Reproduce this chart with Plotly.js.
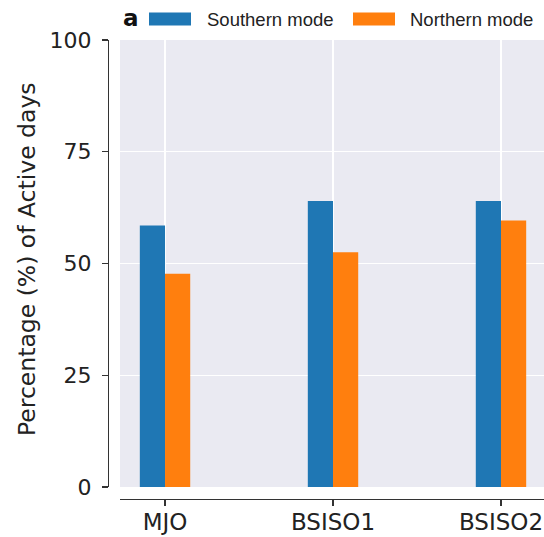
<!DOCTYPE html>
<html>
<head>
<meta charset="utf-8">
<script src="https://cdn.plot.ly/plotly-3.0.1.min.js"></script>
<style>html,body{margin:0;padding:0;background:#fff;}#chart{width:544px;height:537px;}</style>
</head>
<body>
<div id="chart"></div>
<script>
const categories = ['MJO', 'BSISO1', 'BSISO2'];
const southern = [58.5, 64.0, 64.0];
const northern = [47.7, 52.5, 59.6];
const seriesNames = ['Southern mode', 'Northern mode'];
const seriesColors = ['#1f77b4', '#ff7f0e'];
const yTicks = [0, 25, 50, 75, 100];
const panelLabel = 'a';
const yTitle = 'Percentage (%) of Active days';

const W = 544, H = 537, ML = 108, MR = 0, MT = 40, MB = 38;
const PW = W - ML - MR, PH = H - MT - MB;
const px = v => (v - ML) / PW;
const py = v => (H - MB - v) / PH;

const traces = [
  {type: 'bar', name: seriesNames[0], x: categories, y: southern, width: 0.15, offset: -0.15,
   marker: {color: seriesColors[0]}, showlegend: false, hoverinfo: 'skip'},
  {type: 'bar', name: seriesNames[1], x: categories, y: northern, width: 0.15, offset: 0,
   marker: {color: seriesColors[1]}, showlegend: false, hoverinfo: 'skip'}
];

const layout = {
  width: W, height: H,
  margin: {l: ML, r: MR, t: MT, b: MB, pad: 0},
  paper_bgcolor: '#ffffff', plot_bgcolor: '#EAEAF2',
  barmode: 'overlay',
  showlegend: false,
  xaxis: {
    domain: [12 / PW, 1], anchor: 'free', position: 0,
    type: 'category', range: [-0.268, 2.256],
    showline: true, linecolor: '#333', linewidth: 1.25,
    ticks: 'outside', ticklen: 6, tickwidth: 1.25, tickcolor: '#333',
    showgrid: true, gridcolor: '#ffffff', gridwidth: 1.3, zeroline: false,
    tickfont: {family: 'DejaVu Sans', size: 23, color: '#222'},
    ticklabelstandoff: -4, fixedrange: true, automargin: false
  },
  yaxis: {
    domain: [12 / PH, 1], anchor: 'free', position: 0,
    range: [0, 100], tickvals: yTicks, ticktext: yTicks.map(String),
    showline: true, linecolor: '#333', linewidth: 1.25,
    ticks: 'outside', ticklen: 6, tickwidth: 1.25, tickcolor: '#333',
    showgrid: true, gridcolor: '#ffffff', gridwidth: 1.3, zeroline: false,
    tickfont: {family: 'DejaVu Sans', size: 22, color: '#222'}, ticklabelstandoff: 6,
    automargin: false, fixedrange: true
  },
  shapes: [
    {type: 'rect', xref: 'paper', yref: 'paper', x0: px(149), x1: px(191), y0: py(25.5), y1: py(12.5),
     fillcolor: seriesColors[0], line: {width: 0}},
    {type: 'rect', xref: 'paper', yref: 'paper', x0: px(353), x1: px(395), y0: py(25.5), y1: py(12.5),
     fillcolor: seriesColors[1], line: {width: 0}}
  ],
  annotations: [
    {text: '<b>' + panelLabel + '</b>', xref: 'paper', yref: 'paper', x: px(121), y: py(18),
     xanchor: 'left', yanchor: 'middle', showarrow: false,
     font: {family: 'DejaVu Sans', size: 23, color: '#111'}},
    {text: seriesNames[0], xref: 'paper', yref: 'paper', x: px(205), y: py(19.5),
     xanchor: 'left', yanchor: 'middle', showarrow: false,
     font: {family: 'Liberation Sans', size: 18.5, color: '#222'}},
    {text: seriesNames[1], xref: 'paper', yref: 'paper', x: px(408), y: py(19.5),
     xanchor: 'left', yanchor: 'middle', showarrow: false,
     font: {family: 'Liberation Sans', size: 18.5, color: '#222'}},
    {text: yTitle, xref: 'paper', yref: 'paper', x: px(27), y: py(259), textangle: -90,
     xanchor: 'center', yanchor: 'middle', showarrow: false,
     font: {family: 'DejaVu Sans', size: 23.5, color: '#222'}}
  ]
};

Plotly.newPlot('chart', traces, layout, {displayModeBar: false, staticPlot: true});
</script>
</body>
</html>
